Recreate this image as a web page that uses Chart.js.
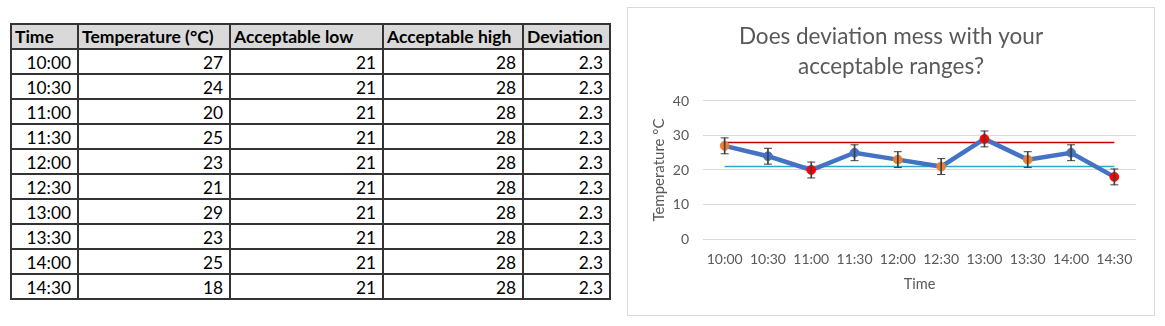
<!DOCTYPE html>
<html>
<head>
<meta charset="utf-8">
<script src="https://cdn.jsdelivr.net/npm/chart.js@4.4.1/dist/chart.umd.min.js"></script>
<style>
  html, body { margin: 0; padding: 0; background: #ffffff; width: 1165px; height: 326px; overflow: hidden; }
  #tbl { position: absolute; left: 10px; top: 23px; border-collapse: collapse; font-family: Lato, "Liberation Sans", sans-serif; font-size: 17.3px; color: #000; table-layout: fixed; }
  #tbl th, #tbl td { border: 2px solid #333; height: 25px; box-sizing: border-box; padding: 0 6px; white-space: nowrap; overflow: hidden; line-height: 18px; vertical-align: middle; }
  #tbl th { background: #D9D9D9; text-align: left; font-weight: bold; padding-left: 3px; font-size: 17.5px; }
  #tbl td { text-align: right; padding-top: 2px; }
  #box { position: absolute; left: 627px; top: 7px; width: 526px; height: 307px; border: 1px solid #D9D9D9; background: #fff; }
  #box canvas { display: block; }
</style>
</head>
<body>
<table id="tbl">
  <colgroup>
    <col style="width:67px"><col style="width:152px"><col style="width:153px"><col style="width:140px"><col style="width:80px">
  </colgroup>
  <thead><tr id="head"></tr></thead>
  <tbody id="body"></tbody>
</table>
<div id="box"><canvas id="c" width="526" height="307"></canvas></div>
<script>
// ---- data ----
const headers = ['Time', 'Temperature (°C)', 'Acceptable low', 'Acceptable high', 'Deviation'];
const categories = ['10:00', '10:30', '11:00', '11:30', '12:00', '12:30', '13:00', '13:30', '14:00', '14:30'];
const temperature = [27, 24, 20, 25, 23, 21, 29, 23, 25, 18];
const acceptableLow = [21, 21, 21, 21, 21, 21, 21, 21, 21, 21];
const acceptableHigh = [28, 28, 28, 28, 28, 28, 28, 28, 28, 28];
const deviation = [2.3, 2.3, 2.3, 2.3, 2.3, 2.3, 2.3, 2.3, 2.3, 2.3];
const yTicks = [0, 10, 20, 30, 40];
const chartTitle = ['Does deviation mess with your', 'acceptable ranges?'];
const xTitle = 'Time';
const yTitle = 'Temperature °C';

// ---- table ----
const headRow = document.getElementById('head');
headers.forEach(h => { const th = document.createElement('th'); th.textContent = h; headRow.appendChild(th); });
const tbody = document.getElementById('body');
categories.forEach((t, i) => {
  const tr = document.createElement('tr');
  [t, temperature[i], acceptableLow[i], acceptableHigh[i], deviation[i]].forEach(v => {
    const td = document.createElement('td'); td.textContent = String(v); tr.appendChild(td);
  });
  tbody.appendChild(tr);
});

// ---- chart ----
const BLUE = '#4472C4', ORANGE = '#ED7D31', RED = '#FF0000';
const pointColors = temperature.map((v, i) => {
  if (v < acceptableLow[i] || v > acceptableHigh[i]) return RED;
  if (v - deviation[i] < acceptableLow[i] || v + deviation[i] > acceptableHigh[i]) return ORANGE;
  return BLUE;
});
const errLow = temperature.map((v, i) => v - deviation[i]);
const errHigh = temperature.map((v, i) => v + deviation[i]);
const errRange = temperature.map((v, i) => [errLow[i], errHigh[i]]);
const TXT = '#595959';
const FONT = 'Lato';

new Chart(document.getElementById('c'), {
  data: {
    labels: categories,
    datasets: [
      { type: 'line', label: 'Temperature', data: temperature, borderColor: BLUE, borderWidth: 4.5,
        pointRadius: 4.4, pointBackgroundColor: pointColors, pointBorderColor: pointColors, pointBorderWidth: 1,
        order: 2, tension: 0 },
      { type: 'line', label: 'Acceptable high', data: acceptableHigh, borderColor: '#C00000', borderWidth: 1.5,
        pointRadius: 0, order: 4 },
      { type: 'line', label: 'Acceptable low', data: acceptableLow, borderColor: '#2EA6CF', borderWidth: 1.5,
        pointRadius: 0, order: 5 },
      { type: 'bar', label: 'Deviation', data: errRange, backgroundColor: '#404040', barThickness: 1,
        order: 1 },
      { type: 'line', label: 'Dev low', data: errLow, showLine: false, pointStyle: 'line', pointRadius: 4,
        pointBorderColor: '#404040', pointBorderWidth: 1, order: 1 },
      { type: 'line', label: 'Dev high', data: errHigh, showLine: false, pointStyle: 'line', pointRadius: 4,
        pointBorderColor: '#404040', pointBorderWidth: 1, order: 1 }
    ]
  },
  options: {
    responsive: false,
    animation: false,
    events: [],
    layout: { padding: 0 },
    plugins: {
      legend: { display: false },
      tooltip: { enabled: false },
      title: { display: true, text: chartTitle, color: TXT,
        font: { family: FONT, size: 22.5, weight: 'normal', lineHeight: 1.333 },
        padding: { top: 14, bottom: 19 } }
    },
    scales: {
      x: {
        offset: true,
        grid: { display: false, drawTicks: false },
        border: { display: false },
        ticks: { color: TXT, font: { family: FONT, size: 14 }, padding: 12, maxRotation: 0, autoSkip: false },
        title: { display: true, text: xTitle, color: TXT, font: { family: FONT, size: 14.5 }, padding: { top: 0, bottom: 22 } },
        afterFit: s => { s.height = 76; }
      },
      y: {
        min: 0, max: 40,
        afterBuildTicks: s => { s.ticks = yTicks.map(v => ({ value: v })); },
        grid: { color: '#D9D9D9', drawTicks: false, lineWidth: 1 },
        border: { display: false },
        ticks: { color: TXT, font: { family: FONT, size: 14 }, padding: 14 },
        title: { display: true, text: yTitle, color: TXT, font: { family: FONT, size: 15 }, padding: { top: 22, bottom: 0 } },
        afterFit: s => { s.width = 75; }
      },
      yRight: {
        position: 'right', display: true,
        grid: { display: false, drawTicks: false }, border: { display: false },
        ticks: { display: false },
        afterFit: s => { s.width = 18; }
      }
    }
  }
});
</script>
</body>
</html>
